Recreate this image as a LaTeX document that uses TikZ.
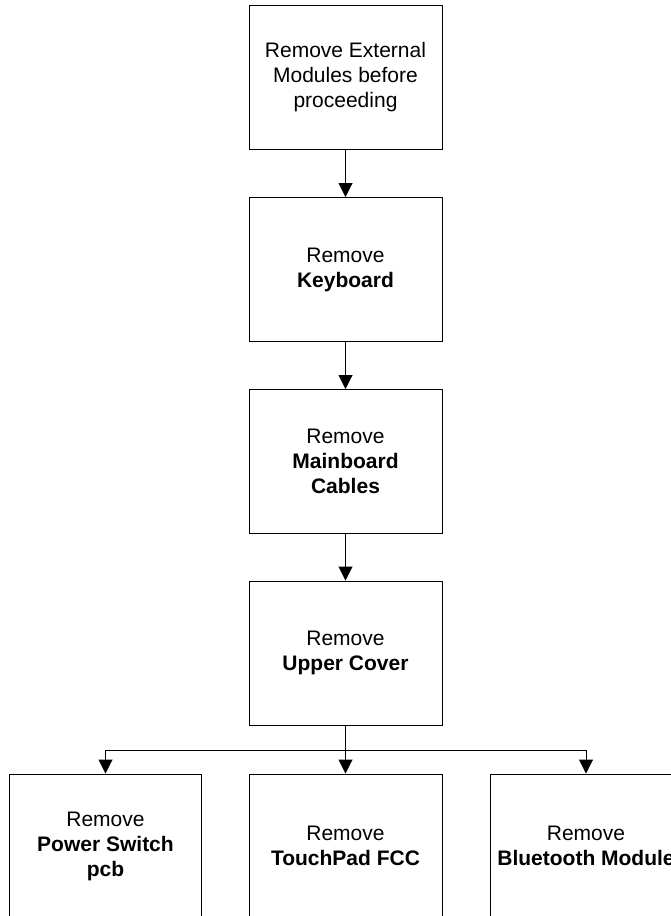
\documentclass[tikz,border=0pt]{standalone}
\usepackage{fontspec}
\setmainfont{Liberation Sans}
\usetikzlibrary{arrows.meta,positioning}

\begin{document}
\begin{tikzpicture}[x=1pt,y=-1pt,
  step box/.style={draw=black,line width=1pt,fill=white,rectangle,
    minimum width=193pt,minimum height=144pt,inner sep=0pt,align=center,
    font=\fontsize{21}{25}\selectfont},
  flow/.style={-{Triangle[length=14pt,width=14pt]},line width=1pt,black}]

  \useasboundingbox (0,0) rectangle (671,916);
  \clip (0,0) rectangle (671,916);

  % Main column
  \node[step box] (ext) at (345.5,77) {Remove External\\Modules before\\proceeding};
  \node[step box] (kbd) at (345.5,269.5) {Remove\\\textbf{Keyboard}};
  \node[step box] (cab) at (345.5,461.5) {Remove\\\textbf{Mainboard}\\\textbf{Cables}};
  \node[step box] (cov) at (345.5,653) {Remove\\\textbf{Upper Cover}};

  % Bottom row
  \node[step box,minimum width=192pt] (pwr) at (105.5,846) {Remove\\\textbf{Power Switch}\\\textbf{pcb}};
  \node[step box] (tpd) at (345.5,846) {Remove\\\textbf{TouchPad FCC}};
  \node[step box,minimum width=192pt] (blu) at (586,846) {Remove\\\textbf{Bluetooth Module}};

  \coordinate (split) at (345.5,750);

  % Connections
  \draw[flow] (ext) -- (kbd);
  \draw[flow] (kbd) -- (cab);
  \draw[flow] (cab) -- (cov);
  \draw[line width=1pt] (cov) -- (split);
  \draw[flow] (split) -| (pwr.north);
  \draw[flow] (split) -- (tpd);
  \draw[flow] (split) -| (blu.north);
\end{tikzpicture}
\end{document}
